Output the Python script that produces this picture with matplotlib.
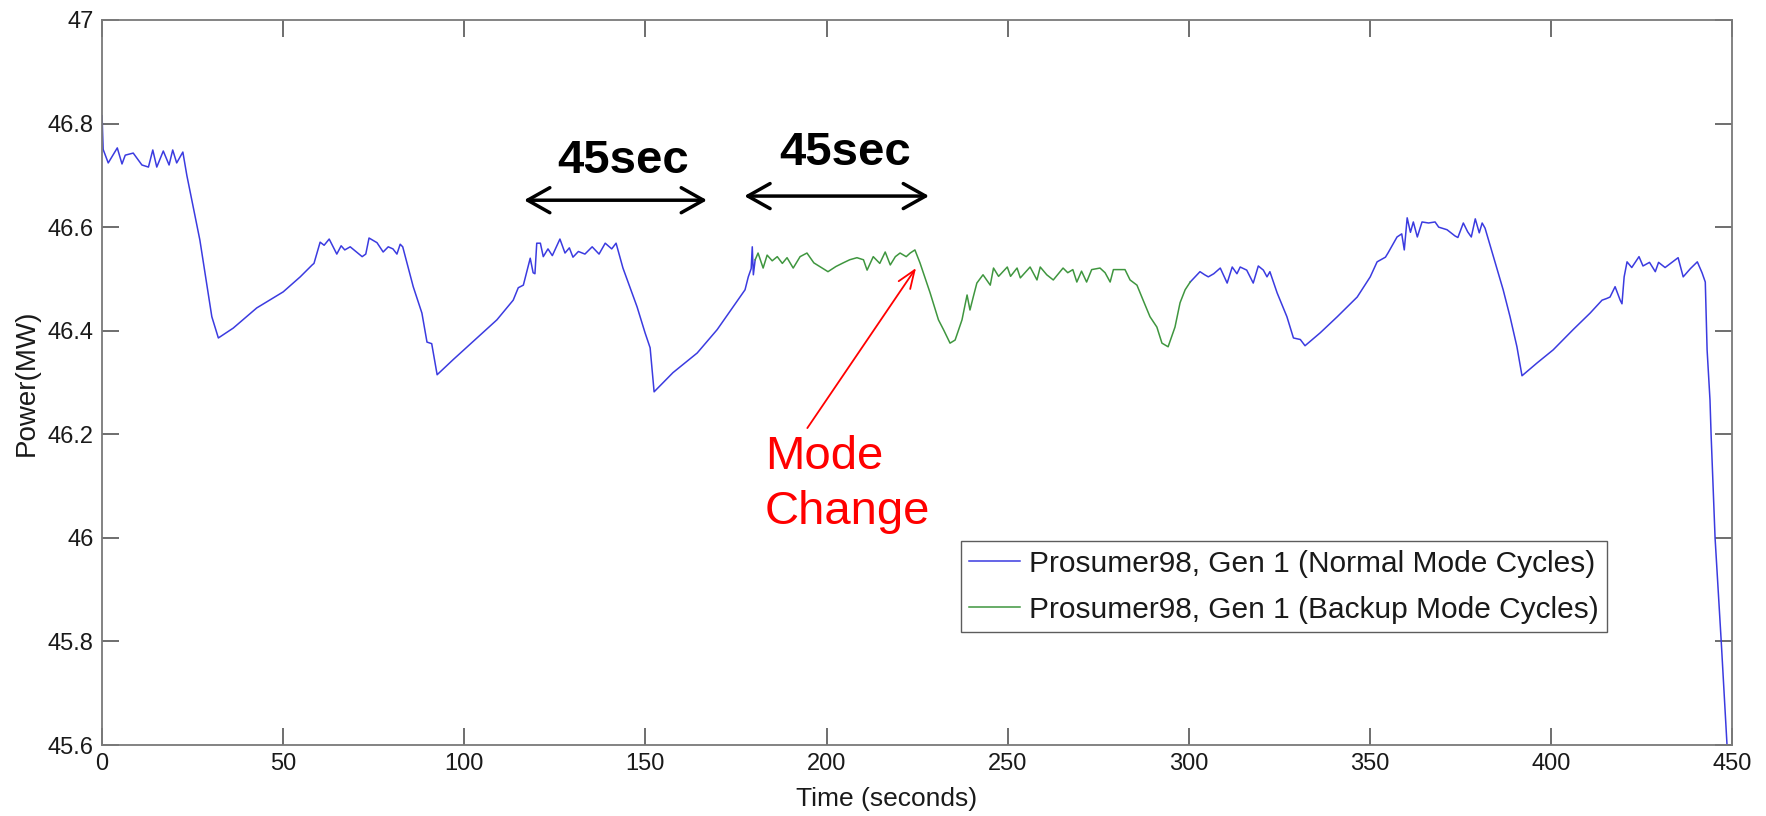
import numpy as np
import matplotlib
matplotlib.use("Agg")
import matplotlib.pyplot as plt
from matplotlib.ticker import FixedLocator, FixedFormatter

plt.rcParams["font.family"] = ["Liberation Sans", "DejaVu Sans"]

# generator output, normal-mode cycles before the mode change (s, MW)
normal_a_t = [0, 0.3, 1.7, 4.2, 5.5, 6.4, 8.6, 11.0, 12.8, 14.0, 15.1, 16.9, 18.5, 19.5,
              20.6, 22.3, 23.4, 27.0, 30.3, 32.1, 36.2, 42.7, 50.0, 54.7, 58.0, 58.5,
              60.2, 61.3, 62.7, 64.8, 66.0, 67.0, 68.5, 71.8, 72.8, 73.7, 75.9, 77.6,
              79.0, 80.3, 81.4, 82.3, 83.0, 85.9, 88.3, 89.7, 91.0, 92.5, 96.9, 103.5,
              109.0, 113.5, 114.9, 116.3, 118.2, 119.0, 119.5, 120.0, 121.0, 121.8,
              123.1, 124.3, 126.4, 127.8, 129.0, 130.0, 131.5, 133.3, 135.3, 137.2,
              138.9, 140.7, 141.9, 143.8, 147.7, 149.9, 151.3, 152.4, 157.6, 164.3,
              169.8, 174.2, 177.5, 178.4, 179.2, 179.5, 179.8, 180.3]
normal_a_p = [46.815, 46.75, 46.724, 46.753, 46.722, 46.739, 46.743, 46.720, 46.716,
              46.749, 46.716, 46.747, 46.720, 46.749, 46.724, 46.745, 46.70, 46.575,
              46.427, 46.386, 46.405, 46.444, 46.475, 46.504, 46.527, 46.530, 46.571,
              46.565, 46.577, 46.548, 46.564, 46.556, 46.562, 46.543, 46.548, 46.579,
              46.570, 46.552, 46.562, 46.558, 46.548, 46.567, 46.562, 46.485, 46.434,
              46.378, 46.375, 46.315, 46.344, 46.386, 46.421, 46.459, 46.483, 46.488,
              46.540, 46.512, 46.510, 46.569, 46.569, 46.543, 46.558, 46.545, 46.577,
              46.550, 46.560, 46.542, 46.553, 46.548, 46.562, 46.548, 46.569, 46.558,
              46.569, 46.521, 46.446, 46.396, 46.367, 46.282, 46.319, 46.357, 46.402,
              46.446, 46.479, 46.504, 46.520, 46.562, 46.508, 46.537]

# backup-mode cycles
backup_t = [180.3, 181.1, 182.5, 183.6, 185.0, 186.4, 187.8, 189.1, 190.8, 192.7, 194.6,
            196.5, 198.8, 200.4, 202.6, 204.6, 206.4, 208.4, 210.2, 211.2, 212.9, 214.7,
            216.2, 217.6, 219.0, 220.3, 222.0, 223.1, 224.4, 225.8, 228.6, 230.9, 232.3,
            234.1, 235.5, 237.4, 238.8, 239.6, 240.5, 241.5, 243.2, 245.2, 246.1, 247.5,
            249.9, 250.8, 252.6, 253.5, 256.2, 258.1, 259.0, 260.8, 262.6, 265.3, 266.6,
            268.0, 269.1, 270.4, 271.8, 273.2, 275.5, 276.9, 278.3, 279.2, 281.0, 282.4,
            283.8, 285.7, 287.4, 289.3, 291.2, 292.6, 294.3, 296.2, 297.6, 299.0, 300.4]
backup_p = [46.537, 46.550, 46.521, 46.546, 46.535, 46.543, 46.530, 46.541, 46.521,
            46.543, 46.550, 46.531, 46.521, 46.514, 46.524, 46.531, 46.537, 46.541,
            46.537, 46.517, 46.543, 46.530, 46.552, 46.527, 46.543, 46.550, 46.543,
            46.550, 46.556, 46.531, 46.473, 46.421, 46.402, 46.376, 46.382, 46.421,
            46.469, 46.440, 46.465, 46.492, 46.508, 46.488, 46.521, 46.505, 46.523,
            46.505, 46.521, 46.502, 46.523, 46.498, 46.523, 46.508, 46.498, 46.521,
            46.512, 46.518, 46.494, 46.515, 46.494, 46.518, 46.521, 46.512, 46.494,
            46.518, 46.518, 46.518, 46.498, 46.488, 46.459, 46.427, 46.407, 46.376,
            46.369, 46.407, 46.454, 46.479, 46.494]

# normal-mode cycles after the backup period
normal_b_t = [300.4, 303.1, 304.4, 305.4, 306.9, 308.7, 310.6, 312.0, 313.3, 314.2, 316.0,
              317.8, 319.2, 320.6, 321.6, 322.4, 324.4, 327.1, 328.9, 330.8, 332.1, 336.3,
              341.0, 346.5, 350.1, 352.0, 354.3, 355.0, 357.5, 358.8, 359.5, 360.3, 361.2,
              362.0, 363.1, 364.4, 366.2, 368.0, 369.0, 371.3, 373.5, 374.3, 375.8, 377.0,
              378.0, 379.1, 380.2, 381.0, 381.8, 384.1, 386.8, 388.7, 390.6, 392.0, 396.2,
              400.6, 406.1, 410.8, 414.1, 415.3, 416.3, 417.7, 419.1, 419.6, 420.2, 421.0,
              422.3, 424.3, 425.4, 427.2, 428.8, 429.7, 431.5, 435.1, 436.5, 438.5, 440.4,
              441.7, 442.6, 443.1, 443.9, 444.2, 445.3, 447.0, 448.6, 449.2]
normal_b_p = [46.494, 46.514, 46.508, 46.504, 46.510, 46.521, 46.492, 46.523, 46.510,
              46.523, 46.517, 46.492, 46.525, 46.517, 46.504, 46.514, 46.473, 46.427,
              46.386, 46.383, 46.371, 46.396, 46.427, 46.465, 46.504, 46.533, 46.542,
              46.550, 46.581, 46.587, 46.556, 46.618, 46.590, 46.610, 46.581, 46.610,
              46.608, 46.610, 46.600, 46.595, 46.583, 46.580, 46.608, 46.591, 46.581,
              46.616, 46.589, 46.608, 46.598, 46.543, 46.479, 46.427, 46.369, 46.313,
              46.338, 46.363, 46.402, 46.434, 46.459, 46.462, 46.465, 46.485, 46.459,
              46.452, 46.504, 46.533, 46.522, 46.543, 46.525, 46.532, 46.514, 46.532,
              46.522, 46.541, 46.504, 46.520, 46.533, 46.512, 46.494, 46.363, 46.266,
              46.200, 46.000, 45.800, 45.600, 45.520]

x_ticks = [0, 50, 100, 150, 200, 250, 300, 350, 400, 450]
y_ticks = [45.6, 45.8, 46.0, 46.2, 46.4, 46.6, 46.8, 47.0]
y_tick_labels = ["45.6", "45.8", "46", "46.2", "46.4", "46.6", "46.8", "47"]

normal_t = np.concatenate([normal_a_t, [np.nan], normal_b_t])
normal_p = np.concatenate([normal_a_p, [np.nan], normal_b_p])

fig = plt.figure(figsize=(17.66, 8.16), dpi=100)
ax = fig.add_axes([0.0578, 0.087, 0.923, 0.8885])

ax.plot(normal_t, normal_p, color="#3b3be0", lw=1.1,
        label="Prosumer98, Gen 1 (Normal Mode Cycles)")
ax.plot(backup_t, backup_p, color="#3f963f", lw=1.1,
        label="Prosumer98, Gen 1 (Backup Mode Cycles)")

ax.set_xlim(0, 450)
ax.set_ylim(45.6, 47.0)
ax.xaxis.set_major_locator(FixedLocator(x_ticks))
ax.yaxis.set_major_locator(FixedLocator(y_ticks))
ax.yaxis.set_major_formatter(FixedFormatter(y_tick_labels))

for spine in ax.spines.values():
    spine.set_color("#7a7a7a")
    spine.set_linewidth(1.3)
ax.tick_params(direction="in", length=12, width=1.2, color="#555555",
               top=True, right=True, labelsize=17, labelcolor="#1a1a1a", pad=6)

ax.set_xlabel("Time (seconds)", fontsize=19, color="#1a1a1a")
ax.xaxis.set_label_coords(0.481, -0.058)
ax.set_ylabel("Power(MW)", fontsize=20, color="#1a1a1a", labelpad=6)

# 45 s cycle markers
head = "<->,head_length=16,head_width=9"
ax.annotate("", xy=(167, 46.652), xytext=(116.5, 46.652),
            arrowprops=dict(arrowstyle=head, lw=2.5, color="black",
                            mutation_scale=1, shrinkA=0, shrinkB=0))
ax.annotate("", xy=(228.3, 46.66), xytext=(177.3, 46.66),
            arrowprops=dict(arrowstyle=head, lw=2.5, color="black",
                            mutation_scale=1, shrinkA=0, shrinkB=0))
ax.text(143.8, 46.728, "45sec", ha="center", va="center",
        fontsize=34, fontweight="bold")
ax.text(205.0, 46.744, "45sec", ha="center", va="center",
        fontsize=34, fontweight="bold")

# mode change pointer
ax.annotate("", xy=(224.7, 46.521), xytext=(194.7, 46.212),
            arrowprops=dict(arrowstyle="->,head_length=13,head_width=5", lw=1.3,
                            color="red", mutation_scale=1, shrinkA=0, shrinkB=0))
ax.text(183.0, 46.198, "Mode\nChange", color="red", fontsize=34,
        ha="left", va="top", linespacing=1.3)

leg = ax.legend(loc="upper left", bbox_to_anchor=(0.527, 0.281), fontsize=21.5,
                frameon=True, fancybox=False, handlelength=1.7, handletextpad=0.3,
                borderpad=0.28, labelspacing=0.6, borderaxespad=0)
leg.get_frame().set_edgecolor("#333333")
leg.get_frame().set_linewidth(1.0)
for txt in leg.get_texts():
    txt.set_color("#1a1a1a")

fig.savefig("out.png", dpi=100)
